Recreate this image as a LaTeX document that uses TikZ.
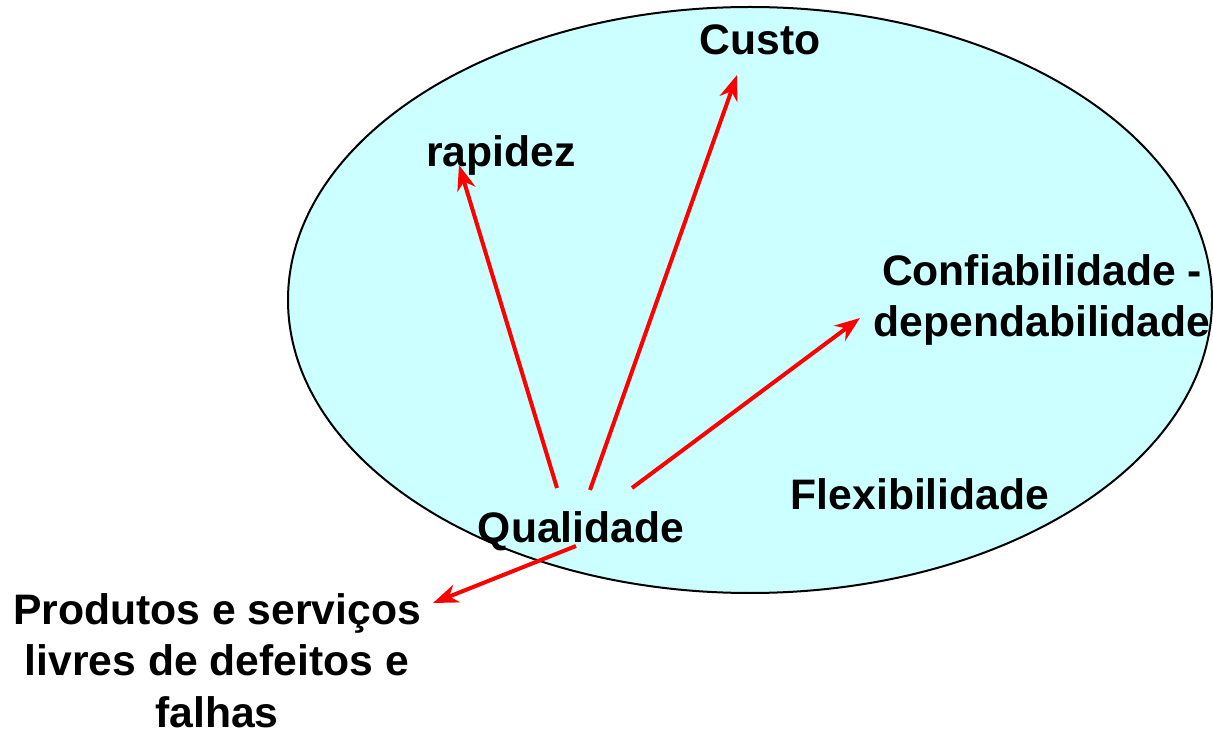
\documentclass[tikz,border=0pt]{standalone}
\usepackage{fontspec}
\setmainfont{Liberation Sans}
\usetikzlibrary{arrows.meta}
\usetikzlibrary{calc}
\definecolor{lightcyan}{HTML}{CCFFFF}

\begin{document}
\begin{tikzpicture}[x=0.75pt, y=-0.75pt, >={Stealth[length=19pt, width=14pt, inset=6pt]}]
        \tikzstyle{word} = [font=\fontsize{32}{38.5}\selectfont\bfseries, inner sep=0pt, anchor=base, align=center]
        \tikzstyle{link} = [->, red, line width=3pt]
        \useasboundingbox (0,0) rectangle (1213,730);
                \begin{scope}
                        % Background ellipse
                        \draw[line width=1.5pt, fill=lightcyan] (750,300) ellipse [x radius=462, y radius=293];

                        \path
                        node[word] (custo) at (760,55) {Custo}
                        node[word] (rapidez) at (501,167) {rapidez}
                        node[word] (conf) at (1042,337) {Confiabilidade -\\dependabilidade}
                        node[word] (flex) at (920,509) {Flexibilidade}
                        node[word] (qual) at (581,542) {Qualidade}
                        node[word] (prod) at (217,727) {Produtos e serviços\\livres de defeitos e\\falhas};

                        % Arrows out of Qualidade
                        \draw[link] ($(qual.base)+(-24,-54)$) -- ($(rapidez.base)+(-42,-2)$);
                        \draw[link] ($(qual.base)+(9,-52)$) -- ($(custo.base)+(-23,20)$);
                        \draw[link] ($(qual.base)+(51,-54)$) -- ($(conf.base)+(-182,-19)$);
                        \draw[link] ($(qual.base)+(-5,4)$) -- ($(prod.base)+(216,-124)$);
                \end{scope}
\end{tikzpicture}
\end{document}
